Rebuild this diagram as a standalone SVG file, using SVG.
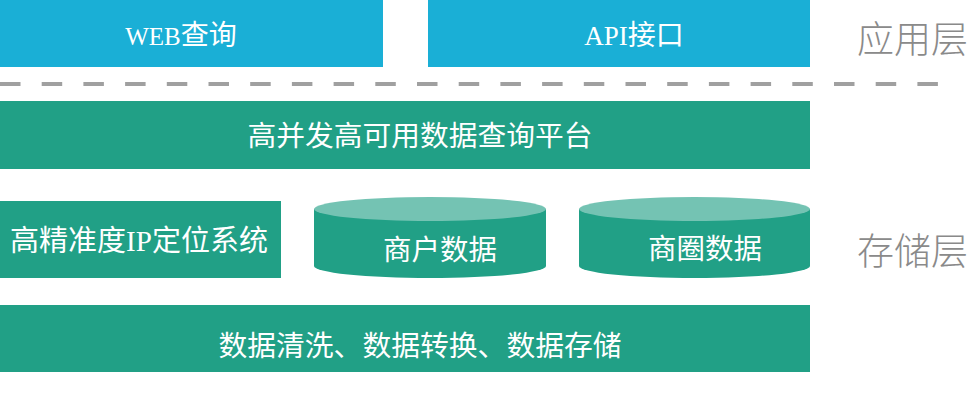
<svg xmlns="http://www.w3.org/2000/svg" width="969" height="400" viewBox="0 0 969 400">
<style>
.blue{fill:#1aafd6}
.green{fill:#21a086}
.top{fill:#74c3b3}
.t{font-family:"Noto Sans CJK SC","Liberation Sans",sans-serif;fill:#ffffff;text-anchor:middle}
.ser{font-family:"Liberation Serif","Noto Sans CJK SC",serif}
.layer{font-family:"Noto Sans CJK SC",sans-serif;fill:#8a8a8a;font-size:37px;font-weight:300}
</style>
<rect width="969" height="400" fill="#ffffff"/>
<g id="web">
<rect class="blue" x="0" y="0" width="383" height="67"/>
<text class="t" x="181" y="45" font-size="28"><tspan class="ser" font-size="25">WEB</tspan>查询</text>
</g>
<g id="api">
<rect class="blue" x="428" y="0" width="382" height="67"/>
<text class="t" x="634" y="45" font-size="28"><tspan class="ser" font-size="27">API</tspan>接口</text>
</g>
<g id="divider">
<line x1="0" y1="84" x2="940" y2="84" stroke="#a0a0a0" stroke-width="4" stroke-dasharray="20.5 21.2"/>
</g>
<g id="app-layer"><text class="layer" x="857" y="53">应用层</text></g>
<g id="platform">
<rect class="green" x="0" y="101" width="810" height="68"/>
<text class="t" x="420" y="146" font-size="28" textLength="345" lengthAdjust="spacingAndGlyphs">高并发高可用数据查询平台</text>
</g>
<g id="ipsys">
<rect class="green" x="0" y="201" width="281" height="77"/>
<text class="t" x="139" y="251" font-size="29">高精准度<tspan class="ser">IP</tspan>定位系统</text>
</g>
<g id="merchant">
<path class="green" d="M314 209 L314 266 A116 12 0 0 0 546 266 L546 209 Z"/>
<ellipse class="top" cx="430" cy="209" rx="116" ry="12"/>
<text class="t" x="440" y="260" font-size="28.5">商户数据</text>
</g>
<g id="district">
<path class="green" d="M579 209 L579 266 A115.5 12 0 0 0 810 266 L810 209 Z"/>
<ellipse class="top" cx="694.5" cy="209" rx="115.5" ry="12"/>
<text class="t" x="705" y="259" font-size="28.5">商圈数据</text>
</g>
<g id="etl">
<rect class="green" x="0" y="305" width="810" height="67"/>
<text class="t" x="420" y="356" font-size="28.8">数据清洗、数据转换、数据存储</text>
</g>
<g id="storage-layer"><text class="layer" x="857" y="265">存储层</text></g>
<g id="connectors"></g>
</svg>
